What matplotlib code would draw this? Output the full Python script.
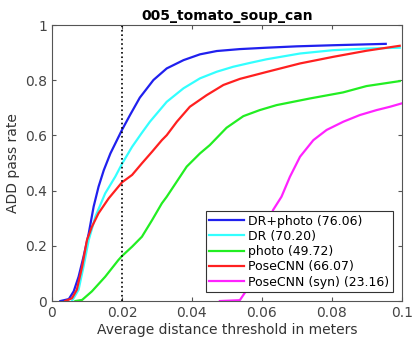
import matplotlib
matplotlib.use('Agg')
import matplotlib.pyplot as plt

# ADD pass rate vs distance threshold, one curve per method
dr_photo_x = [0.0024, 0.0048, 0.0062, 0.0076, 0.0090, 0.0105, 0.0119, 0.0133, 0.0148, 0.0167, 0.0200, 0.0223,
              0.0251, 0.0290, 0.0328, 0.0376, 0.0423, 0.0471, 0.0537, 0.0613, 0.0700, 0.0804, 0.0954]
dr_photo_y = [0.000, 0.007, 0.035, 0.088, 0.160, 0.245, 0.342, 0.414, 0.474, 0.535, 0.620, 0.674,
              0.737, 0.801, 0.843, 0.873, 0.894, 0.906, 0.913, 0.918, 0.923, 0.927, 0.932]

dr_x = [0.0057, 0.0076, 0.0090, 0.0105, 0.0124, 0.0152, 0.0181, 0.0200, 0.0229, 0.0256, 0.0280, 0.0328, 0.0376,
        0.0423, 0.0471, 0.0518, 0.0566, 0.0613, 0.0709, 0.0803, 0.0899, 0.0994]
dr_y = [0.000, 0.041, 0.124, 0.221, 0.306, 0.390, 0.451, 0.497, 0.559, 0.608, 0.650, 0.722, 0.771,
        0.807, 0.831, 0.849, 0.863, 0.876, 0.897, 0.909, 0.915, 0.918]

photo_x = [0.0067, 0.0086, 0.0114, 0.0152, 0.0190, 0.0200, 0.0229, 0.0257, 0.0286, 0.0314, 0.0328, 0.0385, 0.0423,
           0.0451, 0.0499, 0.0547, 0.0594, 0.0642, 0.0737, 0.0832, 0.0899, 0.0994]
photo_y = [0.000, 0.004, 0.035, 0.088, 0.149, 0.163, 0.197, 0.233, 0.293, 0.354, 0.378, 0.487, 0.535,
           0.565, 0.628, 0.670, 0.692, 0.710, 0.734, 0.756, 0.779, 0.797]

posecnn_x = [0.0038, 0.0057, 0.0071, 0.0086, 0.0100, 0.0114, 0.0133, 0.0162, 0.0200, 0.0229, 0.0257, 0.0286, 0.0314,
             0.0328, 0.0357, 0.0394, 0.0442, 0.0490, 0.0537, 0.0613, 0.0709, 0.0804, 0.0899, 0.0994]
posecnn_y = [0.000, 0.010, 0.041, 0.124, 0.221, 0.269, 0.318, 0.372, 0.430, 0.457, 0.499, 0.541, 0.583,
             0.601, 0.650, 0.704, 0.746, 0.783, 0.805, 0.830, 0.861, 0.885, 0.907, 0.925]

syn_x = [0.0480, 0.0537, 0.0556, 0.0575, 0.0604, 0.0632, 0.0656, 0.0680, 0.0709, 0.0747, 0.0785, 0.0833, 0.0880,
         0.0928, 0.0966, 0.0999]
syn_y = [0.000, 0.003, 0.039, 0.124, 0.232, 0.330, 0.378, 0.450, 0.523, 0.583, 0.620, 0.650, 0.674,
         0.692, 0.704, 0.716]

labels = ['DR+photo (76.06)', 'DR (70.20)', 'photo (49.72)', 'PoseCNN (66.07)', 'PoseCNN (syn) (23.16)']
colors = ['#2020ee', '#33ffff', '#22ee22', '#ff2020', '#ff22ff']
threshold = 0.02

fig = plt.figure(figsize=(4.14, 3.39), dpi=100)
ax = fig.add_axes([0.1256, 0.112, 0.845, 0.814])

series = [(dr_photo_x, dr_photo_y), (dr_x, dr_y), (photo_x, photo_y), (posecnn_x, posecnn_y), (syn_x, syn_y)]
for (xs, ys), lab, c in zip(series, labels, colors):
    ax.plot(xs, ys, color=c, lw=1.6, label=lab)

ax.axvline(threshold, color='black', ls=':', lw=1.2)

ax.set_xlim(0, 0.1)
ax.set_ylim(0, 1)
ax.set_xticks([0, 0.02, 0.04, 0.06, 0.08, 0.1])
ax.set_xticklabels(['0', '0.02', '0.04', '0.06', '0.08', '0.1'])
ax.set_yticks([0, 0.2, 0.4, 0.6, 0.8, 1])
ax.set_yticklabels(['0', '0.2', '0.4', '0.6', '0.8', '1'])
ax.tick_params(direction='in', top=True, right=True, length=3, labelsize=10, colors='#555555', labelcolor='#444444')
for s in ax.spines.values():
    s.set_color('#555555')
    s.set_linewidth(0.8)

ax.set_xlabel('Average distance threshold in meters', fontsize=10, color='#333333', labelpad=2)
ax.set_ylabel('ADD pass rate', fontsize=10, color='#333333', labelpad=4)
ax.set_title('005_tomato_soup_can', fontsize=10, fontweight='bold', pad=4)

leg = ax.legend(loc='lower right', fontsize=9, fancybox=False, framealpha=1, edgecolor='#333333',
                borderpad=0.3, labelspacing=0.18, handlelength=2.8, handletextpad=0.3, borderaxespad=0.7)
leg.get_frame().set_linewidth(0.8)

fig.savefig('out.png', dpi=100)
